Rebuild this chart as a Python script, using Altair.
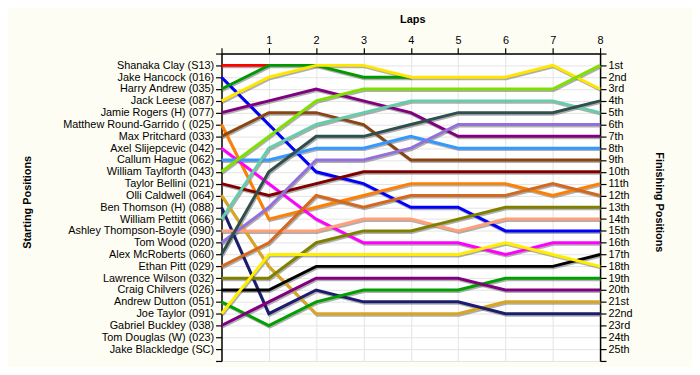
import json
import altair as alt
import pandas as pd

# ---------------- data ----------------
starters = ["Shanaka Clay (S13)", "Jake Hancock (016)", "Harry Andrew (035)", "Jack Leese (087)",
            "Jamie Rogers (H) (077)", "Matthew Round-Garrido ( (025)", "Max Pritchard (033)",
            "Axel Slijepcevic (042)", "Callum Hague (062)", "William Taylforth (043)",
            "Taylor Bellini (021)", "Olli Caldwell (064)", "Ben Thomson (H) (088)",
            "William Pettitt (066)", "Ashley Thompson-Boyle (090)", "Tom Wood (020)",
            "Alex McRoberts (060)", "Ethan Pitt (029)", "Lawrence Wilson (032)",
            "Craig Chilvers (026)", "Andrew Dutton (051)", "Joe Taylor (091)",
            "Gabriel Buckley (038)", "Tom Douglas (W) (023)", "Jake Blackledge (SC)"]

finish_labels = ["1st", "2nd", "3rd", "4th", "5th", "6th", "7th", "8th", "9th", "10th",
                 "11th", "12th", "13th", "14th", "15th", "16th", "17th", "18th", "19th",
                 "20th", "21st", "22nd", "23rd", "24th", "25th"]

laps = [0, 1, 2, 3, 4, 5, 6, 7, 8]

# position of each starter at the end of each lap (None = not running)
positions = [
    [1, 1, None, None, None, None, None, None, None],
    [2, 6, 10, 11, 13, 13, 15, 15, 15],
    [3, 1, 1, 2, 2, None, None, None, None],
    [4, 2, 1, 1, 2, 2, 2, 1, 3],
    [5, 4, 3, 4, 5, 7, 7, 7, 7],
    [6, 14, 13, 12, 11, 11, 11, 12, 11],
    [7, 5, 5, 6, 9, 9, 9, 9, 9],
    [8, 11, 14, 16, 16, 16, 17, 16, 16],
    [9, 9, 8, 8, 7, 8, 8, 8, 8],
    [10, 7, 4, 3, 3, 3, 3, 3, 1],
    [11, 12, 11, 10, 10, 10, 10, 10, 10],
    [12, 18, 22, 22, 22, 22, 21, 21, 21],
    [13, 22, 20, 21, 21, 21, 22, 22, 22],
    [14, 8, 6, 5, 4, 4, 4, 4, 5],
    [15, 15, 15, 14, 14, 15, 14, 14, 14],
    [16, 13, 9, 9, 8, 6, 6, 6, 6],
    [17, 10, 7, 7, 6, 5, 5, 5, 4],
    [18, 16, 12, 13, 12, 12, 12, 11, 12],
    [19, 19, 16, 15, 15, 14, 13, 13, 13],
    [20, 20, 18, 18, 18, 18, 18, 18, 17],
    [21, 23, 21, 20, 20, 20, 19, 19, 19],
    [22, 17, 17, 17, 17, 17, 16, 17, 18],
    [23, 21, 19, 19, 19, 19, 20, 20, 20],
]

line_colors = ["#FF0000", "#0000FF", "#009900", "#FFE600", "#800080", "#FF8000", "#8B4513",
               "#FF00FF", "#3399FF", "#80E000", "#800000", "#DAA520", "#1C1C6E", "#66CDAA",
               "#FFA07A", "#9370DB", "#2F4F4F", "#D2691E", "#808000", "#000000", "#00A000",
               "#FFEE00", "#800080"]

# ---------------- table ----------------
rows = []
for i, series in enumerate(positions):
    for lap, pos in zip(laps, series):
        if pos is not None:
            rows.append({"driver": starters[i], "order": i, "lap": lap, "pos": pos})
df = pd.DataFrame(rows)
drivers = [starters[i] for i in range(len(positions))]

FONT = "Liberation Sans"
start_expr = ("datum.value >= 1 && datum.value <= 25 ? " + json.dumps(starters) +
              "[datum.value - 1] : ''")
finish_expr = ("datum.value >= 1 && datum.value <= 25 ? " + json.dumps(finish_labels) +
               "[datum.value - 1] : ''")

x_axis = alt.Axis(orient="top", values=laps, title="Laps",
                  labelExpr="datum.value == 0 ? '' : datum.label",
                  grid=True, titleX=193, titleY=-34, titleBaseline="middle",
                  titleAlign="center")
x_scale = alt.Scale(domain=[0, 8], nice=False, zero=False)
y_scale = alt.Scale(domain=[0, 26], reverse=True, nice=False, zero=False)
tick_vals = list(range(0, 27))

shadow = alt.Chart(df).mark_line(strokeWidth=3, color="#6E6E6E", opacity=0.55,
                                 xOffset=1, yOffset=1.5).encode(
    x=alt.X("lap:Q", scale=x_scale, axis=x_axis),
    y=alt.Y("pos:Q", scale=y_scale,
            axis=alt.Axis(orient="left", values=tick_vals, labelExpr=start_expr,
                          title="Starting Positions", grid=True,
                          titleX=-196, titleY=150, titleAngle=-90,
                          titleBaseline="middle", titleAlign="center")),
    detail="driver:N",
    order="lap:Q",
)

lines = alt.Chart(df).mark_line(strokeWidth=3).encode(
    x=alt.X("lap:Q", scale=x_scale, axis=x_axis),
    y=alt.Y("pos:Q", scale=y_scale,
            axis=alt.Axis(orient="right", values=tick_vals, labelExpr=finish_expr,
                          title="Finishing Positions", grid=False,
                          titleX=59, titleY=150, titleAngle=90,
                          titleBaseline="middle", titleAlign="center")),
    color=alt.Color("driver:N", scale=alt.Scale(domain=drivers, range=line_colors),
                    legend=None),
    order="lap:Q",
)

chart = alt.layer(shadow, lines).resolve_axis(y="independent").properties(
    width=383, height=311,
    autosize=alt.AutoSizeParams(type="none"),
    padding={"left": 216, "top": 44, "right": 93, "bottom": 4},
    background="#FDFDF3",
).configure_view(
    strokeWidth=0, fill="#FFFFFF"
).configure_axis(
    labelFont=FONT, labelFontSize=11, labelColor="#000000",
    titleFont=FONT, titleFontSize=11, titleFontWeight="bold", titleColor="#000000",
    domainColor="#000000", domainWidth=1.5, tickColor="#000000", tickWidth=1.2,
    tickSize=6, labelPadding=2, gridColor="#E4E4E4", gridWidth=1,
    labelOverlap=False, labelBound=False, labelFlush=False,
)

chart.save("out.html", embed_options={"renderer": "svg", "actions": False})
